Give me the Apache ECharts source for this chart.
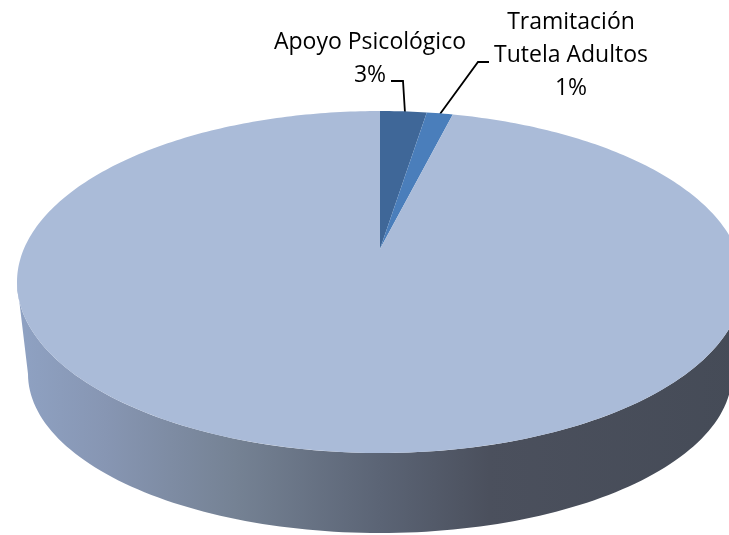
<!DOCTYPE html>
<html>
<head>
<meta charset="utf-8">
<style>
  html, body { margin: 0; padding: 0; background: #fff; }
  #chart { width: 729px; height: 535px; }
</style>
<script src="https://cdn.jsdelivr.net/npm/echarts@6/dist/echarts.min.js"></script>
</head>
<body>
<div id="chart"></div>
<script>
const sliceNames = ['Apoyo Psicológico', 'Tramitación Tutela Adultos', 'No']
const sliceValues = [2.5, 1.4, 96.1]
const sliceLabels = ['3%', '1%', '97%']
const sliceColors = ['#3f6798', '#4a7ebb', '#aabbd8']

// top face and bottom rim of the disc
const top_ = { cx: 380, cy: 282, rx: 363, ry: 171 }
const bottom = { cx: 380, cy: 374, rx: 352, ry: 159 }
// the disc centre is drawn above the middle of the ellipse (perspective)
const apexY = 249
const k = (apexY - top_.cy) / top_.ry

const total = sliceValues.reduce((a, b) => a + b, 0)

// angle in radians, clockwise from 12 o'clock -> point on the top face
function rimPoint(angle) {
  const u = Math.sin(angle)
  const v = -Math.cos(angle)
  const d = 1 + k * v
  return [
    top_.cx + top_.rx * u * Math.sqrt(1 - k * k) / d,
    top_.cy + top_.ry * (v + k) / d
  ]
}

function halfEllipse(e, from, to) {
  const pts = []
  for (let i = 0; i <= 120; i++) {
    const t = from + (to - from) * i / 120
    pts.push([e.cx + e.rx * Math.cos(t), e.cy + e.ry * Math.sin(t)])
  }
  return pts
}

function renderSide() {
  const pts = halfEllipse(top_, Math.PI, 0).concat(halfEllipse(bottom, 0, Math.PI))
  return {
    type: 'polygon',
    shape: { points: pts },
    style: {
      fill: new echarts.graphic.LinearGradient(17, 0, 743, 0, [
        { offset: 0, color: '#8fa2c3' },
        { offset: 0.12, color: '#8796b3' },
        { offset: 0.3, color: '#758294' },
        { offset: 0.5, color: '#5b6475' },
        { offset: 0.65, color: '#4b505d' },
        { offset: 1, color: '#454b57' }
      ], true)
    }
  }
}

function renderSlice(params, api) {
  const idx = params.dataIndex
  let start = 0
  for (let i = 0; i < idx; i++) start += sliceValues[i]
  const a0 = start / total * Math.PI * 2
  const a1 = (start + api.value(0)) / total * Math.PI * 2
  const steps = Math.max(4, Math.ceil((a1 - a0) * 60))
  const pts = [[top_.cx, apexY]]
  for (let i = 0; i <= steps; i++) {
    pts.push(rimPoint(a0 + (a1 - a0) * i / steps))
  }
  return {
    type: 'polygon',
    shape: { points: pts },
    style: { fill: sliceColors[idx] }
  }
}

function textEl(text, x, y) {
  return {
    type: 'text',
    x: x,
    y: y,
    style: {
      text: text,
      fill: '#000',
      font: '23px "Open Sans"',
      align: 'center',
      verticalAlign: 'middle'
    }
  }
}

function leader(points) {
  return {
    type: 'polyline',
    shape: { points: points },
    style: { stroke: '#000', lineWidth: 1.8, fill: 'none' }
  }
}

const chart = echarts.init(document.getElementById('chart'))
chart.setOption({
  animation: false,
  backgroundColor: '#fff',
  series: [
    {
      type: 'custom',
      coordinateSystem: 'none',
      silent: true,
      data: [0],
      renderItem: renderSide
    },
    {
      type: 'custom',
      coordinateSystem: 'none',
      silent: true,
      data: sliceValues,
      renderItem: renderSlice
    }
  ],
  graphic: [
    textEl(sliceNames[0], 370, 42),
    textEl(sliceLabels[0], 370, 75),
    textEl('Tramitación', 571, 22),
    textEl('Tutela Adultos', 571, 55),
    textEl(sliceLabels[1], 571, 88),
    textEl(sliceNames[2], 332, 391),
    textEl(sliceLabels[2], 332, 423),
    leader([[391, 81], [403, 81], [405, 113]]),
    leader([[489, 62], [478, 62], [440, 114]])
  ]
})
</script>
</body>
</html>
